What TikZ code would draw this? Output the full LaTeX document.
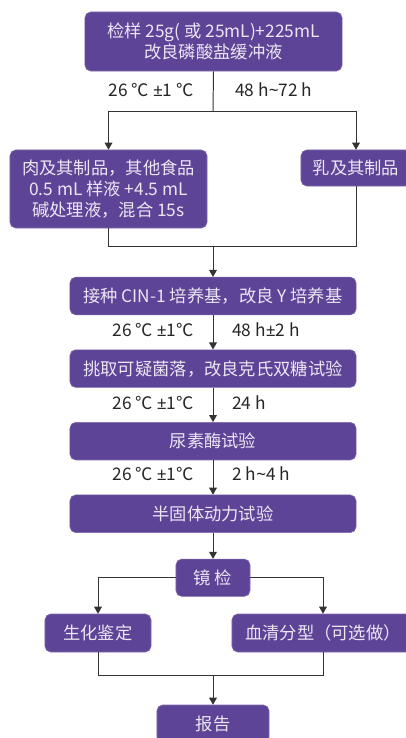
\documentclass[tikz,border=0pt]{standalone}
\usepackage{fontspec}
\setmainfont{Noto Sans CJK SC}
\newfontfamily\latinfont{Noto Sans}
\usetikzlibrary{arrows.meta,positioning}
\definecolor{flowpurple}{HTML}{5E4496}
\definecolor{flowtext}{HTML}{ECE6F4}
\newcommand{\pmsign}{{\latinfont ±}}
\newcommand{\tildesign}{{\latinfont\textasciitilde}}

\begin{document}
\begin{tikzpicture}[
    x=0.025cm, y=-0.025cm,
    node distance=0.86cm,
    box/.style={fill=flowpurple, draw=flowpurple!80!white, rounded corners=4pt, align=center, text=flowtext, font=\fontsize{12.3}{15}\selectfont, inner sep=2pt},
    wide/.style={box, minimum width=7.15cm, minimum height=0.94cm},
    lbl/.style={font=\fontsize{12.3}{15}\selectfont, text=black!85, inner sep=0pt},
    link/.style={-{Triangle[width=5.5pt,length=5pt]}, line width=0.7pt, draw=black!80},
    wire/.style={line width=0.7pt, draw=black!80}
]
\useasboundingbox (0,0) rectangle (406,738);

% enrichment
\node[box, minimum width=6.425cm, minimum height=1.475cm] (sample) at (213.5,41.5) {检样 25g( 或 25mL)+225mL\\改良磷酸盐缓冲液};
\node[lbl, anchor=east] (temp1) at (194,90) {26 ℃ \pmsign1 ℃};
\node[lbl, anchor=west] (time1) at (235,90) {48 h\tildesign72 h};
\node[box, minimum width=4.925cm, minimum height=1.95cm] (meat) at (108.5,189) {肉及其制品，其他食品\\0.5 mL 样液 +4.5 mL\\碱处理液，混合 15s};
\node[box, minimum width=2.75cm, minimum height=0.9cm] (milk) at (356,168) {乳及其制品};
\coordinate (split1) at (213,111);
\coordinate (merge1) at (213,246);
\draw[wire] (sample.south) -- (split1);
\draw[link] (split1) -| (meat);
\draw[link] (split1) -| (milk);
\draw[wire] (meat.south) |- (merge1);
\draw[wire] (milk.south) |- (merge1);

% isolation and tests
\node[wide] (inoc) at (213,296) {接种 CIN-1 培养基，改良 Y 培养基};
\node[wide, below=of inoc] (pick) {挑取可疑菌落，改良克氏双糖试验};
\node[wide, below=of pick] (urea) {尿素酶试验};
\node[wide, below=of urea] (semi) {半固体动力试验};
\draw[link] (merge1) -- (inoc);
\draw[link] (inoc) -- (pick);
\draw[link] (pick) -- (urea);
\draw[link] (urea) -- (semi);
\node[lbl, anchor=east] (temp2) at (194,330) {26 ℃ \pmsign1℃};
\node[lbl, anchor=west] (time2) at (232,330) {48 h\pmsign2 h};
\node[lbl, anchor=east] (temp3) at (194,403) {26 ℃ \pmsign1℃};
\node[lbl, anchor=west] (time3) at (232,403) {24 h};
\node[lbl, anchor=east] (temp4) at (194,474) {26 ℃ \pmsign1℃};
\node[lbl, anchor=west] (time4) at (232,474) {2 h\tildesign4 h};

% identification
\node[box, minimum width=1.85cm, minimum height=0.93cm, below=0.65cm of semi] (scope) {镜 检};
\node[box, minimum width=2.65cm, minimum height=0.95cm] (bio) at (98,633) {生化鉴定};
\node[box, minimum width=4.55cm, minimum height=0.95cm] (sero) at (323,633) {血清分型（可选做）};
\node[box, minimum width=2.8cm, minimum height=0.95cm] (report) at (213,724) {报告};
\coordinate (merge2) at (213,675);
\draw[link] (semi) -- (scope);
\draw[link] (scope.west) -| (bio);
\draw[link] (scope.east) -| (sero);
\draw[wire] (bio.south) |- (merge2);
\draw[wire] (sero.south) |- (merge2);
\draw[link] (merge2) -- (report);
\end{tikzpicture}
\end{document}
